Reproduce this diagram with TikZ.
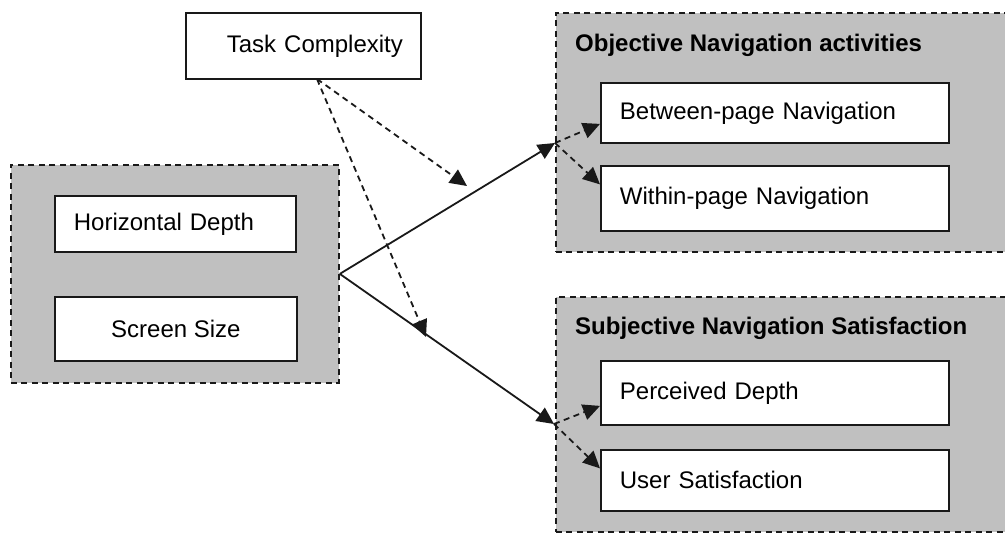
\documentclass[tikz,border=0pt]{standalone}
\usepackage{fontspec}
\setmainfont{Liberation Sans}
\usetikzlibrary{arrows.meta}
\definecolor{grp}{RGB}{192,192,192}
\definecolor{ln}{RGB}{25,25,25}
\begin{document}
\begin{tikzpicture}[x=1pt,y=-1pt,
  txt/.style={font=\fontsize{24}{28}\selectfont},
  group/.style={draw=ln, dash pattern=on 6pt off 4.5pt, line width=1.8pt, fill=grp, anchor=north west, inner sep=0pt},
  box/.style={draw=ln, line width=1.8pt, fill=white, anchor=north west, txt},
  lbox/.style={box, align=left, inner xsep=19pt, text width=#1},
  head/.style={anchor=west, font=\fontsize{24}{28}\selectfont\bfseries, inner sep=0pt},
  solidarrow/.style={draw=ln, line width=1.8pt, -{Triangle[length=17pt,width=16pt]}},
  dasharrow/.style={draw=ln, line width=1.8pt, dash pattern=on 6pt off 4.5pt, -{Triangle[length=17pt,width=16pt]}}
]
\clip (0,0) rectangle (1005,534);
\useasboundingbox (0,0) rectangle (1005,534);
\fill[white] (0,0) rectangle (1005,534);

% groups
\node[group, minimum width=328pt, minimum height=218pt] (lg) at (10,164) {};
\node[group, minimum width=470pt, minimum height=239pt] (og) at (555,12) {};
\node[group, minimum width=470pt, minimum height=235pt] (sg) at (555,296) {};

\node[head] (oh) at (575,45) {Objective Navigation activities};
\node[head] (sh) at (575,328) {Subjective Navigation Satisfaction};

% boxes
\node[box, minimum width=235pt, minimum height=66pt, text width=199pt, align=right, inner xsep=18pt] (tc) at (185,12) {Task Complexity};
\node[lbox=203pt, minimum width=241pt, minimum height=56pt] (hd) at (54,195) {Horizontal Depth};
\node[box, minimum width=242pt, minimum height=64pt] (ss) at (54,296) {Screen Size};
\node[lbox=310pt, minimum width=348pt, minimum height=60pt] (bp) at (600,82) {Between-page Navigation};
\node[lbox=310pt, minimum width=348pt, minimum height=65pt] (wp) at (600,165) {Within-page Navigation};
\node[lbox=310pt, minimum width=348pt, minimum height=64pt] (pd) at (600,360) {Perceived Depth};
\node[lbox=310pt, minimum width=348pt, minimum height=61pt] (us) at (600,449) {User Satisfaction};

% junction points and free ends
\coordinate (j1) at (555,143);
\coordinate (j2) at (554,424);
\coordinate (tco) at (317,79);
\coordinate (t1) at (467,186);
\coordinate (t2) at (426,337);

% connectors
\draw[solidarrow] (lg.east) -- (j1);
\draw[solidarrow] (lg.east) -- (j2);
\draw[dasharrow] (j1) -- ([yshift=-11pt]bp.west);
\draw[dasharrow] (j1) -- ([yshift=14pt]wp.west);
\draw[dasharrow] (j2) -- ([yshift=-13pt]pd.west);
\draw[dasharrow] (j2) -- ([yshift=12pt]us.west);
\draw[dasharrow] (tco) -- (t1);
\draw[dasharrow] (tco) -- (t2);
\end{tikzpicture}
\end{document}
